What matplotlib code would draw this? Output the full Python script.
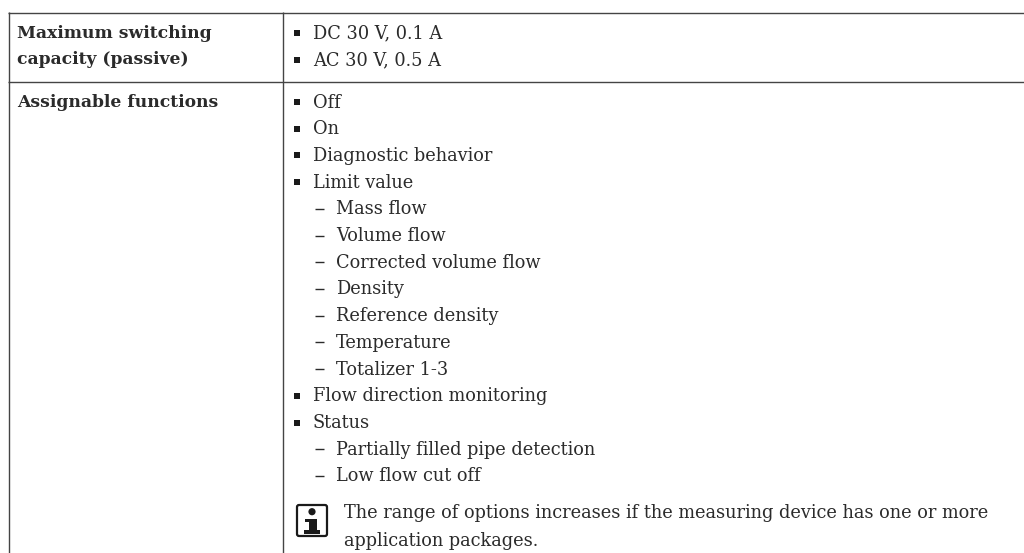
import matplotlib
matplotlib.use("Agg")
import matplotlib.pyplot as plt
from matplotlib.patches import FancyBboxPatch, Circle, Rectangle

W, H = 1024, 553

row_labels = [["Maximum switching", "capacity (passive)"], ["Assignable functions"]]
capacity = ["DC 30 V, 0.1 A", "AC 30 V, 0.5 A"]
# (level, text)
functions = [(0, "Off"), (0, "On"), (0, "Diagnostic behavior"), (0, "Limit value"),
             (1, "Mass flow"), (1, "Volume flow"), (1, "Corrected volume flow"),
             (1, "Density"), (1, "Reference density"), (1, "Temperature"),
             (1, "Totalizer 1-3"), (0, "Flow direction monitoring"), (0, "Status"),
             (1, "Partially filled pipe detection"), (1, "Low flow cut off")]
note = ["The range of options increases if the measuring device has one or more",
        "application packages."]

plt.rcParams['font.family'] = ['DejaVu Serif']
fs = 12.75
fs_bold = 12.35
dark = "#2b2b2b"
line = "#444444"

fig = plt.figure(figsize=(W/100, H/100), dpi=100)
ax = fig.add_axes([0, 0, 1, 1])
ax.set_xlim(0, W)
ax.set_ylim(H, 0)
ax.axis("off")

# table rules
for xs, ys in [([8, 1024], [12.5, 12.5]), ([8, 1024], [81.5, 81.5]),
               ([8.5, 8.5], [12, 553]), ([282.5, 282.5], [12, 553])]:
    ax.plot(xs, ys, color=line, lw=1.0, solid_capstyle="butt")

def put(x, y, s, size=fs, **kw):
    ax.text(x, y - 1.5, s, fontsize=size, color=dark, va="center_baseline", ha="left", **kw)

def item(level, y, s):
    if level == 0:
        ax.plot([296.5], [y], "s", color="#1a1a1a", ms=4.4, mew=0)
        put(313, y, s)
    else:
        ax.plot([314.5, 324], [y, y], color=dark, lw=1.0, solid_capstyle="butt")
        put(336, y, s)

put(17, 33, row_labels[0][0], size=fs_bold, fontweight="bold")
put(17, 59, row_labels[0][1], size=fs_bold, fontweight="bold")
put(17, 102, row_labels[1][0], size=fs_bold, fontweight="bold")

for i, s in enumerate(capacity):
    item(0, 33 + i*26.5, s)

for i, (level, s) in enumerate(functions):
    item(level, 102 + i*26.71, s)

# info icon
ax.add_patch(FancyBboxPatch((297, 505), 30, 31, boxstyle="round,pad=0,rounding_size=2",
                            fc="white", ec="#1a1a1a", lw=1.6))
ax.add_patch(Circle((312, 511.7), 3.6, fc="#1a1a1a", ec="none"))
ax.add_patch(Rectangle((305, 518.5), 12, 3, fc="#1a1a1a", ec="none"))
ax.add_patch(Rectangle((309, 518.5), 8, 13, fc="#1a1a1a", ec="none"))
ax.add_patch(Rectangle((304, 530), 16, 4, fc="#1a1a1a", ec="none"))
put(344, 513, note[0])
put(344, 540, note[1])

fig.savefig("out.png", dpi=100)
